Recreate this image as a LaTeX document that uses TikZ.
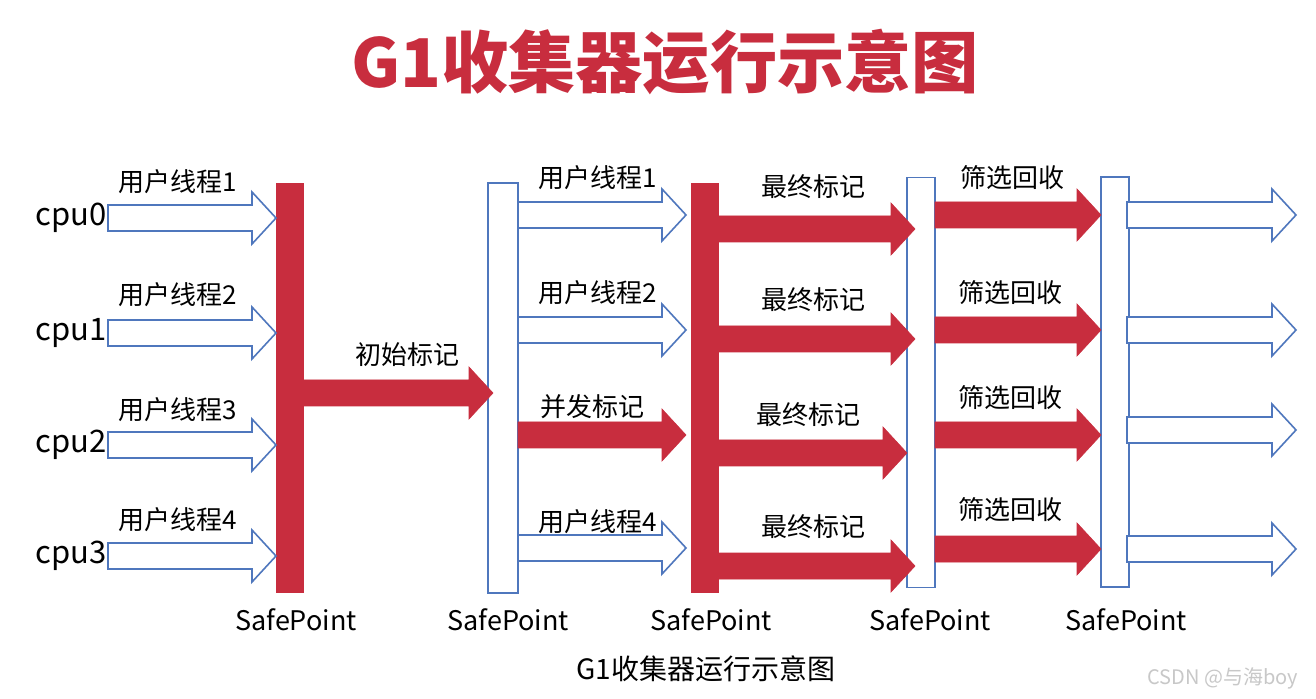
\documentclass[tikz,border=0pt]{standalone}
\usepackage{fontspec}
\setmainfont{Noto Sans CJK SC}
\usetikzlibrary{calc,positioning}
\definecolor{MarkRed}{RGB}{200,45,62}
\definecolor{ThreadBlue}{RGB}{79,119,189}
\definecolor{MarkGray}{RGB}{200,200,200}

% block arrow: style, from, to, row
\newcommand{\fatarrow}[4]{%
  \draw[#1] let \p1=#2, \p2=#3, \p3=(0,#4) in
    (\x1,\y3+6.5pt) -- (\x2-12pt,\y3+6.5pt) -- (\x2-12pt,\y3+13pt) -- (\x2,\y3)
    -- (\x2-12pt,\y3-13pt) -- (\x2-12pt,\y3-6.5pt) -- (\x1,\y3-6.5pt) -- cycle;}

\begin{document}
\begin{tikzpicture}[x=0.5pt, y=-0.5pt,
    redbar/.style={fill=MarkRed, minimum width=14pt, minimum height=205pt, inner sep=0pt, outer sep=0pt},
    bluebar/.style={draw=ThreadBlue, fill=white, line width=0.7pt, minimum width=14pt, minimum height=205pt, inner sep=0pt, outer sep=0pt},
    redarrow/.style={fill=MarkRed, draw=MarkRed, line width=0.3pt},
    bluearrow/.style={fill=white, draw=ThreadBlue, line width=0.8pt},
    tag/.style={font=\fontsize{13}{15}\selectfont, inner sep=0pt}]
    \useasboundingbox[fill=white] (0,0) rectangle (1316,699);

    % Title
    \node[font=\fontsize{33.6}{36}\selectfont\bfseries, text=MarkRed] (title) at (665,62) {G1收集器运行示意图};

    % SafePoint bars
    \node[redbar] (sp1) at (290,388) {};
    \node[bluebar, minimum width=15pt] (sp2) at (503,388) {};
    \node[redbar] (sp3) at (705,388) {};
    \node[bluebar] (sp4) at (921,382.5) {};
    \node[bluebar] (sp5) at (1115,382) {};
    \coordinate (exit) at (1296,0);

    % CPU labels
    \foreach \i/\r in {0/218, 1/333, 2/445, 3/556}
        \node[font=\fontsize{15.5}{17}\selectfont, anchor=east, inner sep=0.5pt] (cpu\i) at (108,\r) {cpu\i};

    % User threads up to the first SafePoint
    \foreach \i/\r in {0/218, 1/333, 2/445, 3/556}
        \fatarrow{bluearrow}{(cpu\i.east)}{(sp1.west)}{\r};
    \foreach \n/\r in {1/182, 2/295, 3/410, 4/520}
        \node[tag] at (178,\r) {用户线程\n};

    % Initial mark
    \fatarrow{redarrow}{(sp1.east)}{($(sp2.west)+(5,0)$)}{393};
    \node[tag] (init) at (407,355) {初始标记};

    % Concurrent mark beside user threads
    \foreach \r in {215, 330, 548}
        \fatarrow{bluearrow}{(sp2.east)}{($(sp3.west)+(-5,0)$)}{\r};
    \fatarrow{redarrow}{(sp2.east)}{($(sp3.west)+(-5,0)$)}{435};
    \node[tag] at (598,178) {用户线程1};
    \node[tag] at (598,293) {用户线程2};
    \node[tag] at (592,407) {并发标记};
    \node[tag] at (598,522) {用户线程4};

    % Final mark
    \foreach \r in {229, 339, 566}
        \fatarrow{redarrow}{(sp3.east)}{($(sp4.west)+(8,0)$)}{\r};
    \fatarrow{redarrow}{(sp3.east)}{(sp4.west)}{453};
    \foreach \c/\r in {813/187, 813/300, 808/415, 813/527}
        \node[tag] at (\c,\r) {最终标记};

    % Live data counting and evacuation
    \foreach \r in {215, 330, 435, 549}
        \fatarrow{redarrow}{(sp4.east)}{(sp5.west)}{\r};
    \foreach \c/\r in {1012/178, 1010/293, 1010/398, 1010/510}
        \node[tag] at (\c,\r) {筛选回收};

    % Back to user threads
    \foreach \r in {215, 330, 430, 549}
        \fatarrow{bluearrow}{($(sp5.east)+(-2,0)$)}{(exit)}{\r};

    % SafePoint labels
    \foreach \i/\c in {1/296, 2/508, 3/711, 4/930, 5/1126}
        \node[font=\fontsize{13.5}{15}\selectfont] (lbl\i) at (\c,620) {SafePoint};

    % Caption
    \node[font=\fontsize{14}{16}\selectfont] (caption) at (706,669) {G1收集器运行示意图};
    \node[font=\fontsize{10}{12}\selectfont, text=MarkGray] (mark) at (1223,678) {CSDN @与海boy};
\end{tikzpicture}
\end{document}
